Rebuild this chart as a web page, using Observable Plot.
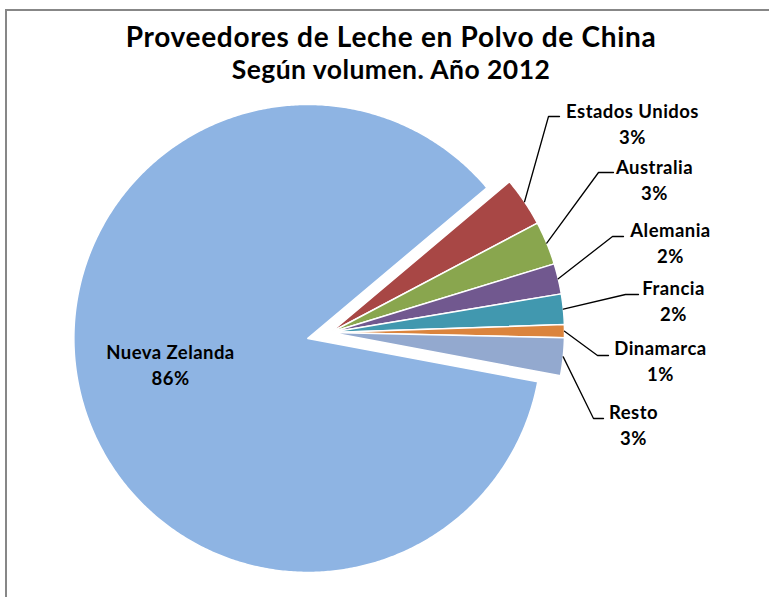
<!DOCTYPE html>
<html>
<head>
<meta charset="utf-8">
<script src="https://cdn.jsdelivr.net/npm/d3@7"></script>
<script src="https://cdn.jsdelivr.net/npm/@observablehq/plot@0.6"></script>
<style>
  html, body { margin: 0; padding: 0; background: #fff; overflow: hidden; }
  body { width: 769px; height: 597px; position: relative; font-family: Lato, "Open Sans", sans-serif; }
  #frame { position: absolute; left: 5px; top: 9px; width: 790px; height: 620px;
           border-top: 2px solid #878787; border-left: 2px solid #878787; }
  #title { position: absolute; left: 5px; top: 11px; width: 772px; text-align: center;
           padding-top: 8px; font-weight: bold; color: #000; }
  #t1 { font-size: 28px; line-height: 34px; letter-spacing: 0.7px; }
  #t2 { font-size: 26.5px; line-height: 33px; letter-spacing: 0.45px; }
  #chart { position: absolute; left: 0; top: 88px; }
</style>
</head>
<body>
<div id="frame"></div>
<div id="title">
  <div id="t1"></div>
  <div id="t2"></div>
</div>
<div id="chart"></div>
<script>
// ---- data ----
const titleText = "Proveedores de Leche en Polvo de China";
const subtitleText = "Según volumen. Año 2012";
const categories = ["Estados Unidos", "Australia", "Alemania", "Francia", "Dinamarca", "Resto", "Nueva Zelanda"];
const shares = [3.4, 3.0, 2.1, 2.1, 0.9, 2.6, 85.9];
const colors = ["#A84745", "#89A64E", "#71588F", "#4198AF", "#DB843D", "#93A9CF", "#8EB4E3"];

// ---- layout (pixels) ----
const W = 769, H = 597, TOP = 88;
const cx = 330, cy = 332, R = 234;
const startDeg = 49.9;
const explode = { "Nueva Zelanda": 23.4 };
// label centre, leader elbow and leader end, relative to pie centre
const labelLayout = {
  "Estados Unidos": { lx: 302, ly: -209.5, ex: 218, ey: -216, hx: 229 },
  "Australia":      { lx: 324, ly: -153.5, ex: 268, ey: -160, hx: 283 },
  "Alemania":       { lx: 340, ly: -90.5,  ex: 282, ey: -96,  hx: 293 },
  "Francia":        { lx: 343, ly: -32.5,  ex: 295, ey: -38,  hx: 308 },
  "Dinamarca":      { lx: 330, ly: 27.5,   ex: 267, ey: 23,   hx: 278 },
  "Resto":          { lx: 303, ly: 91.5,   ex: 263, ey: 86,   hx: 273 },
  "Nueva Zelanda":  { lx: -160, ly: 31 }
};

document.getElementById("t1").textContent = titleText;
document.getElementById("t2").textContent = subtitleText;

const rows = categories.map((c, i) => ({ name: c, value: shares[i] }));
const arcs = d3.pie().sort(null).value(d => d.value)
  .startAngle(startDeg * Math.PI / 180)
  .endAngle(startDeg * Math.PI / 180 + 2 * Math.PI)(rows);

const polys = [];
const leaders = [];
const labels = [];
for (const a of arcs) {
  const name = a.data.name;
  const mid = (a.startAngle + a.endAngle) / 2;
  const off = explode[name] || 0;
  const ox = cx + off * Math.sin(mid), oy = cy - off * Math.cos(mid);
  polys.push({ name, x: ox, y: oy });
  const steps = Math.max(4, Math.ceil((a.endAngle - a.startAngle) / (Math.PI / 360)));
  for (let k = 0; k <= steps; k++) {
    const t = a.startAngle + (a.endAngle - a.startAngle) * k / steps;
    polys.push({ name, x: ox + R * Math.sin(t), y: oy - R * Math.cos(t) });
  }
  polys.push({ name, x: ox, y: oy });
  const L = labelLayout[name];
  const pct = Math.round(a.data.value) + "%";
  labels.push({ name, x: cx + L.lx, y: cy + L.ly, text: name + "\n" + pct });
  if (L.ex !== undefined) {
    leaders.push({ name, x: ox + R * Math.sin(mid), y: oy - R * Math.cos(mid) });
    leaders.push({ name, x: cx + L.ex, y: cy + L.ey });
    leaders.push({ name, x: cx + L.hx, y: cy + L.ey });
  }
}

const chart = Plot.plot({
  width: W,
  height: H - TOP,
  margin: 0,
  x: { domain: [0, W], range: [0, W], axis: null },
  y: { domain: [TOP, H], range: [0, H - TOP], axis: null },
  color: { domain: categories, range: colors },
  style: { background: "transparent", overflow: "visible", letterSpacing: "0.45px" },
  marks: [
    Plot.line(polys, { x: "x", y: "y", z: "name", fill: "name", stroke: "#fff", strokeWidth: 1.5, curve: "linear" }),
    Plot.line(leaders, { x: "x", y: "y", z: "name", stroke: "#000", strokeWidth: 1.3, curve: "linear" }),
    Plot.text(labels, { x: "x", y: "y", text: "text", fill: "#000", fontSize: 18.5, fontWeight: "bold",
      fontFamily: "Lato, 'Open Sans', sans-serif", lineHeight: 1.4, lineAnchor: "middle", textAnchor: "middle" })
  ]
});
document.getElementById("chart").appendChild(chart);
</script>
</body>
</html>
